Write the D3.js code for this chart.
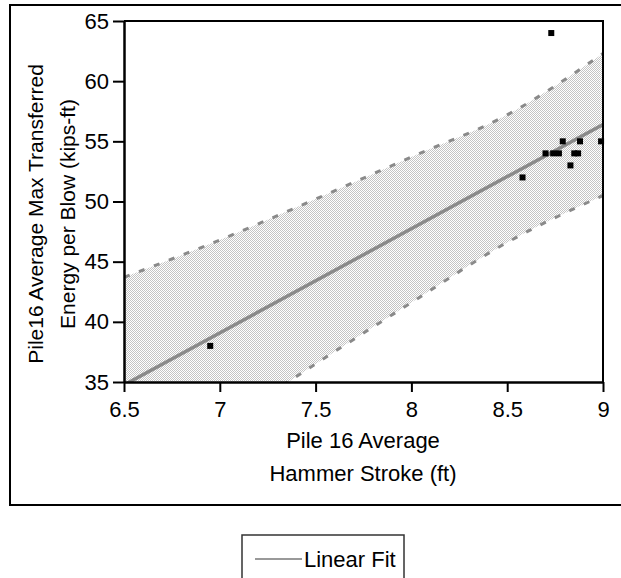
<!DOCTYPE html>
<html>
<head>
<meta charset="utf-8">
<script src="https://cdn.jsdelivr.net/npm/d3@7"></script>
<style>
  body { margin: 0; background: #fff; }
  svg { display: block; font-family: "Liberation Sans", Arial, sans-serif; }
</style>
</head>
<body>
<div id="chart"></div>
<script>
// observed points
var strokeFt = [6.95, 8.58, 8.70, 8.73, 8.74, 8.77, 8.79, 8.83, 8.85, 8.87, 8.88, 8.99]
var energy = [38, 52, 54, 64, 54, 54, 55, 53, 54, 54, 55, 55]

// linear fit and its confidence band
var fitX = [6.5, 9]
var fitY = [34.75, 56.4]
var bandX = [6.5, 7.0, 7.5, 8.0, 8.5, 9.0]
var bandUpper = [43.7, 46.8, 50.2, 53.7, 57.2, 62.3]
var bandLower = [25.7, 31.2, 36.5, 41.6, 46.6, 50.5]

var xTicks = [6.5, 7, 7.5, 8, 8.5, 9]
var yTicks = [35, 40, 45, 50, 55, 60, 65]

var width = 621, height = 578
var margin = { top: 21, right: 18, bottom: 196, left: 124 }
var fontSize = '22px'

var svg = d3.select('#chart')
  .append('svg')
  .attr('width', width)
  .attr('height', height)

var xScale = d3.scaleLinear()
  .domain([6.5, 9])
  .range([margin.left, width - margin.right])

var yScale = d3.scaleLinear()
  .domain([35, 65])
  .range([height - margin.bottom, margin.top])

// outer frame
svg.append('rect')
  .attr('x', 10).attr('y', 5)
  .attr('width', 700).attr('height', 500)
  .style('fill', 'none')
  .style('stroke', '#000')
  .style('stroke-width', 2)

var defs = svg.append('defs')
var pat = defs.append('pattern')
  .attr('id', 'dots')
  .attr('width', 2).attr('height', 2)
  .attr('patternUnits', 'userSpaceOnUse')
pat.append('rect').attr('width', 2).attr('height', 2).style('fill', '#fff')
pat.append('rect').attr('width', 1).attr('height', 1).style('fill', '#c4c4c4')
pat.append('rect').attr('x', 1).attr('y', 1).attr('width', 1).attr('height', 1).style('fill', '#c4c4c4')

defs.append('clipPath')
  .attr('id', 'plotClip')
  .append('rect')
  .attr('x', xScale(6.5)).attr('y', yScale(65))
  .attr('width', xScale(9) - xScale(6.5))
  .attr('height', yScale(35) - yScale(65))

var band = bandX.map((d, i) => ({ x: d, lo: bandLower[i], hi: bandUpper[i] }))

var plotG = svg.append('g').attr('clip-path', 'url(#plotClip)')

var area = d3.area()
  .x(d => xScale(d.x))
  .y0(d => yScale(d.lo))
  .y1(d => yScale(d.hi))
  .curve(d3.curveMonotoneX)

plotG.append('path')
  .datum(band)
  .attr('d', area)
  .style('fill', 'url(#dots)')

var upperLine = d3.line().x(d => xScale(d.x)).y(d => yScale(d.hi)).curve(d3.curveMonotoneX)
var lowerLine = d3.line().x(d => xScale(d.x)).y(d => yScale(d.lo)).curve(d3.curveMonotoneX)

plotG.append('path').datum(band).attr('d', upperLine)
  .style('fill', 'none').style('stroke', '#8a8a8a')
  .style('stroke-width', 3).style('stroke-dasharray', '6,10')
plotG.append('path').datum(band).attr('d', lowerLine)
  .style('fill', 'none').style('stroke', '#8a8a8a')
  .style('stroke-width', 3).style('stroke-dasharray', '6,10')

// fit line
plotG.append('path')
  .datum(fitX.map((d, i) => [d, fitY[i]]))
  .attr('d', d3.line().x(d => xScale(d[0])).y(d => yScale(d[1])))
  .style('fill', 'none')
  .style('stroke', '#8a8a8a')
  .style('stroke-width', 3.5)

// points
svg.append('g')
  .selectAll('rect')
  .data(strokeFt.map((d, i) => [d, energy[i]]))
  .join('rect')
  .attr('x', d => xScale(d[0]) - 3)
  .attr('y', d => yScale(d[1]) - 3)
  .attr('width', 6)
  .attr('height', 6)
  .style('fill', '#000')

// top and right border of plot
svg.append('path')
  .attr('d', `M${xScale(6.5)},${yScale(65)}H${xScale(9)}V${yScale(35)}`)
  .style('fill', 'none')
  .style('stroke', '#000')
  .style('stroke-width', 2)

// axes
var xAxis = d3.axisBottom(xScale)
  .tickValues(xTicks)
  .tickSize(10)
  .tickSizeOuter(0)
  .tickPadding(9)
  .tickFormat(d3.format('~g'))

var yAxis = d3.axisLeft(yScale)
  .tickValues(yTicks)
  .tickSize(11)
  .tickSizeOuter(0)
  .tickPadding(4)

var gx = svg.append('g')
  .attr('transform', `translate(0,${yScale(35)})`)
  .call(xAxis)
var gy = svg.append('g')
  .attr('transform', `translate(${xScale(6.5)},0)`)
  .call(yAxis)

;[gx, gy].forEach(g => {
  g.select('.domain').style('stroke', '#000').style('stroke-width', 2.5)
  g.selectAll('.tick line').style('stroke', '#000').style('stroke-width', 2)
  g.selectAll('.tick text')
    .style('font-family', '"Liberation Sans", Arial, sans-serif')
    .style('font-size', fontSize)
    .style('fill', '#000')
})

// axis titles
var xTitle = svg.append('text')
  .attr('text-anchor', 'middle')
  .style('font-size', fontSize)
xTitle.append('tspan').attr('x', 363).attr('y', 448).text('Pile 16 Average')
xTitle.append('tspan').attr('x', 363).attr('y', 481).text('Hammer Stroke (ft)')

svg.append('text')
  .attr('transform', 'translate(43,214) rotate(-90)')
  .attr('text-anchor', 'middle')
  .style('font-size', '21px')
  .text('Pile16 Average Max Transferred')
svg.append('text')
  .attr('transform', 'translate(75,214) rotate(-90)')
  .attr('text-anchor', 'middle')
  .style('font-size', '21px')
  .text('Energy per Blow (kips-ft)')

// legend
var legend = svg.append('g')
legend.append('rect')
  .attr('x', 242).attr('y', 535)
  .attr('width', 162).attr('height', 60)
  .style('fill', '#fff')
  .style('stroke', '#333')
  .style('stroke-width', 1.5)
legend.append('line')
  .attr('x1', 255).attr('x2', 302)
  .attr('y1', 559).attr('y2', 559)
  .style('stroke', '#999')
  .style('stroke-width', 2)
legend.append('text')
  .attr('x', 304).attr('y', 567)
  .style('font-size', fontSize)
  .text('Linear Fit')
</script>
</body>
</html>
